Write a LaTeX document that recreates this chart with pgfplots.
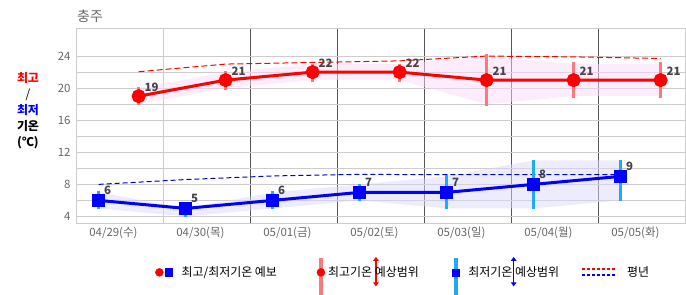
\documentclass[border=0pt]{standalone}
\usepackage{fontspec}
\setmainfont{Noto Sans CJK KR}
\usepackage{pgfplots}
\pgfplotsset{compat=1.18}
\usetikzlibrary{arrows.meta}
\definecolor{rangered}{RGB}{248,122,122}
\definecolor{rangeblue}{RGB}{30,170,245}
\definecolor{bandpink}{RGB}{249,217,249}
\definecolor{bandblue}{RGB}{217,217,249}
\definecolor{gridgray}{RGB}{204,204,204}
\definecolor{darkline}{RGB}{85,85,85}
\definecolor{labelgray}{RGB}{68,68,68}
\definecolor{tickgray}{RGB}{102,102,102}
\begin{document}
\begin{tikzpicture}
\begin{axis}[
  name=ax,
  scale only axis, width=609bp, height=195.5bp,
  xmin=0, xmax=7, ymin=3.12, ymax=27.5,
  axis line style={gridgray, line width=0.8bp},
  xtick={0.43,1.43,2.43,3.43,4.43,5.43,6.43},
  xticklabels={04/29(수),04/30(목),05/01(금),05/02(토),05/03(일),05/04(월),05/05(화)},
  minor xtick={2,3,4,5,6,7},
  xminorgrids=true,
  minor grid style={darkline, line width=0.8bp},
  extra x ticks={1}, extra x tick labels={}, extra x tick style={grid=major},
  ytick={4,6,8,10,12,14,16,18,20,22,24},
  yticklabels={4,,8,,12,,16,,20,,24},
  ymajorgrids=true,
  major grid style={gridgray, line width=0.8bp},
  major tick length=0pt, minor tick length=0pt,
  /pgf/number format/assume math mode=true,
  ticklabel style={font=\fontsize{11.5}{12}\selectfont, text=tickgray},
  yticklabel style={xshift=-2bp},
  title={충주},
  title style={at={(0,1)}, anchor=base west, yshift=1bp, xshift=1bp, inner sep=0pt,
    font=\fontsize{14}{14}\selectfont, text=tickgray},
  legend columns=4,
  legend style={at={(0.1248,-0.25)}, anchor=west, draw=none, fill=none,
    font=\fontsize{12}{12}\selectfont,
    /tikz/every even column/.append style={column sep=20bp}},
]
% ranges bands
\addplot[forget plot, draw=none, fill=bandpink, fill opacity=0.5] coordinates {
 (0.72,20)(1.72,22)(2.72,23)(3.72,23)(4.72,24)(5.72,23)(6.72,23)
 (6.72,19)(5.72,19)(4.72,18)(3.72,21)(2.72,21)(1.72,20)(0.72,18)} -- cycle;
\addplot[forget plot, draw=none, fill=bandblue, fill opacity=0.5] coordinates {
 (0.26,7)(1.26,5)(2.26,7)(3.26,8)(4.26,9)(5.26,11)(6.26,11)
 (6.26,6)(5.26,5)(4.26,5)(3.26,6)(2.26,5)(1.26,4)(0.26,5)} -- cycle;
% normals
\addplot[forget plot, red, line width=1bp, dash pattern=on 6bp off 3bp] coordinates {
 (0.72,22.05)(1.72,23.0)(2.72,23.2)(3.72,23.4)(4.72,24.0)(5.72,23.9)(6.72,23.7)};
\addplot[forget plot, blue!80!black, line width=1bp, dash pattern=on 5bp off 3bp] coordinates {
 (0.26,8.0)(1.26,8.6)(2.26,9.05)(3.26,9.25)(4.26,9.2)(5.26,9.2)(6.26,9.2)};
% range bars
\addplot[forget plot, rangered, line width=3bp, unbounded coords=jump] coordinates {
 (0.72,17.9)(0.72,20.1) (0.72,nan)
 (1.72,19.8)(1.72,22.2) (1.72,nan)
 (2.72,20.8)(2.72,23.0) (2.72,nan)
 (3.72,20.8)(3.72,23.0) (3.72,nan)
 (4.72,17.8)(4.72,24.2) (4.72,nan)
 (5.72,18.8)(5.72,23.2) (5.72,nan)
 (6.72,18.8)(6.72,23.2)};
\addplot[forget plot, rangeblue, line width=3bp, unbounded coords=jump] coordinates {
 (0.26,4.9)(0.26,7.2) (0.26,nan)
 (1.26,3.9)(1.26,5.0) (1.26,nan)
 (2.26,4.9)(2.26,7.2) (2.26,nan)
 (3.26,5.9)(3.26,8.1) (3.26,nan)
 (4.26,4.9)(4.26,9.2) (4.26,nan)
 (5.26,4.9)(5.26,11.1) (5.26,nan)
 (6.26,5.9)(6.26,11.1)};
% forecasts
\addplot[forget plot, red, line width=3bp, mark=*, mark size=5.5bp,
  nodes near coords,
  every node near coord/.append style={font=\bfseries\fontsize{11.5}{12}\selectfont,
    text=labelgray, anchor=base west, inner sep=0pt, xshift=4.5bp, yshift=5bp}]
 coordinates {(0.72,19)(1.72,21)(2.72,22)(3.72,22)(4.72,21)(5.72,21)(6.72,21)};
\addplot[forget plot, blue, line width=3bp, mark=square*, mark size=5.3bp,
  nodes near coords,
  every node near coord/.append style={font=\bfseries\fontsize{11.5}{12}\selectfont,
    text=labelgray, anchor=base west, inner sep=0pt, xshift=4bp, yshift=5.5bp}]
 coordinates {(0.26,6)(1.26,5)(2.26,6)(3.26,7)(4.26,7)(5.26,8)(6.26,9)};
% legend
\addlegendimage{legend image code/.code={
  \path[draw=none, fill=none] (0bp,-4bp) rectangle (24.2bp,4bp);
  \fill[red] (4bp,0bp) circle (4bp);
  \fill[blue] (9.5bp,-3.8bp) rectangle (17.2bp,3.8bp);}}
\addlegendentry{최고/최저기온 예보}
\addlegendimage{legend image code/.code={
  \path[draw=none, fill=none] (-22bp,-4bp) rectangle (5.2bp,4bp);
  \fill[rangered, overlay] (-1.5bp,-23bp) rectangle (1.5bp,14.5bp);
  \fill[red] (0bp,0bp) circle (4bp);
  \draw[overlay, red, line width=1.5bp, {Triangle[length=4bp,width=5.5bp]}-{Triangle[length=4bp,width=5.5bp]}]
    (55bp,-14bp) -- (55bp,15.5bp);}}
\addlegendentry{최고기온 예상범위}
\addlegendimage{legend image code/.code={
  \path[draw=none, fill=none] (-14.9bp,-4bp) rectangle (10.7bp,4bp);
  \fill[rangeblue, overlay] (-1.6bp,-23bp) rectangle (1.6bp,14.5bp);
  \fill[blue] (-3.5bp,-3.5bp) rectangle (3.5bp,3.5bp);
  \draw[overlay, blue, line width=1.5bp, {Triangle[length=4bp,width=5.5bp]}-{Triangle[length=4bp,width=5.5bp]}]
    (58bp,-14bp) -- (58bp,15.5bp);}}
\addlegendentry{최저기온 예상범위}
\addlegendimage{legend image code/.code={
  \path[draw=none, fill=none] (2.4bp,-4bp) rectangle (43bp,4bp);
  \draw[red, line width=2bp, dash pattern=on 3bp off 2bp] (0bp,3bp) -- (35bp,3bp);
  \draw[blue, line width=2bp, dash pattern=on 3bp off 2bp] (0bp,-2.5bp) -- (35bp,-2.5bp);}}
\addlegendentry{평년}
\end{axis}
\node[align=center, font=\bfseries\fontsize{12}{16}\selectfont, inner sep=0pt]
  at ([xshift=-48bp, yshift=15bp]ax.west)
  {\textcolor{red}{최고}\\{\mdseries /}\\\textcolor{blue}{최저}\\기온\\(℃)};
\pgfresetboundingbox
\useasboundingbox ([xshift=-76bp,yshift=-71.5bp]ax.south west) rectangle ([xshift=1bp,yshift=28bp]ax.north east);
\end{tikzpicture}
\end{document}
